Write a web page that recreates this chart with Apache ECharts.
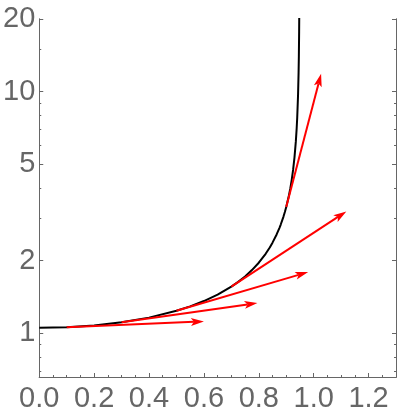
<!DOCTYPE html>
<html>
<head>
<meta charset="utf-8">
<script src="https://cdn.jsdelivr.net/npm/echarts@6/dist/echarts.min.js"></script>
<style>
html,body{margin:0;padding:0;background:#fff;}
#c{width:400px;height:419px;}
</style>
</head>
<body>
<div id="c"></div>
<script>
// Black solution curve
var curveX = [0, 0.1, 0.2, 0.3, 0.4, 0.5, 0.55, 0.6, 0.65, 0.7, 0.725, 0.75, 0.775, 0.8, 0.825, 0.84, 0.85, 0.865, 0.875, 0.88, 0.89, 0.895, 0.9, 0.91, 0.915, 0.92, 0.925, 0.93, 0.935, 0.938, 0.94, 0.943, 0.945, 0.946, 0.947, 0.9475];
var curveY = [1.054, 1.060, 1.078, 1.111, 1.162, 1.240, 1.294, 1.361, 1.447, 1.562, 1.634, 1.721, 1.828, 1.961, 2.135, 2.268, 2.374, 2.567, 2.728, 2.822, 3.044, 3.179, 3.333, 3.729, 3.991, 4.319, 4.747, 5.338, 6.229, 7.044, 7.809, 9.645, 11.97, 14.02, 17.70, 21.1];

// Red tangent arrows: start and tip
var arrowX0 = [0.1, 0.3, 0.5, 0.7, 0.9];
var arrowY0 = [1.060, 1.111, 1.240, 1.562, 3.333];
var arrowX1 = [0.600, 0.795, 0.980, 1.119, 1.027];
var arrowY1 = [1.121, 1.335, 1.794, 3.197, 11.87];

// Ticks
var xMajorTicks = [0, 0.2, 0.4, 0.6, 0.8, 1.0, 1.2];
var xMinorTicks = [0.05, 0.1, 0.15, 0.25, 0.3, 0.35, 0.45, 0.5, 0.55, 0.65, 0.7, 0.75, 0.85, 0.9, 0.95, 1.05, 1.1, 1.15, 1.25, 1.3];
var yMajorTicks = [1, 2, 5, 10, 20];
var yMinorTicks = [0.7, 0.8, 0.9, 3, 4, 6, 7, 8, 9, 15];

var AX = '#666666';
var FONT = 'Liberation Sans, Arial, sans-serif';

var curveData = curveX.map(function (x, i) { return [x, curveY[i]]; });
var arrowData = arrowX0.map(function (x, i) { return [x, arrowY0[i], arrowX1[i], arrowY1[i]]; });

function yAx(pos, ticks, len, showLabel) {
  return {
    type: 'log', logBase: 10, min: 0.66, max: 20, position: pos,
    axisLine: { show: true, lineStyle: { color: AX, width: 1 } },
    axisTick: { show: true, inside: true, length: len, customValues: ticks, lineStyle: { color: AX, width: 1 } },
    axisLabel: showLabel ? { show: true, customValues: ticks, fontSize: 29, color: AX, fontFamily: FONT, margin: 4,
      formatter: function (v) { return String(Math.round(v)); } } : { show: false },
    splitLine: { show: false }, minorTick: { show: false }
  };
}
function xAx(ticks, len, showLabel) {
  return {
    type: 'value', min: 0, max: 1.3, position: 'bottom',
    axisLine: { show: true, onZero: false, lineStyle: { color: AX, width: 1 } },
    axisTick: { show: true, inside: true, length: len, customValues: ticks, lineStyle: { color: AX, width: 1 } },
    axisLabel: showLabel ? { show: true, customValues: ticks, fontSize: 29, color: AX, fontFamily: FONT, margin: 7,
      formatter: function (v) { return v.toFixed(1); } } : { show: false },
    splitLine: { show: false }
  };
}

var chart = echarts.init(document.getElementById('c'), null, { renderer: 'canvas' });
chart.setOption({
  animation: false,
  backgroundColor: '#ffffff',
  grid: { left: 37, right: 4, top: 19, bottom: 42, containLabel: false },
  xAxis: [xAx(xMajorTicks, 4, true), xAx(xMinorTicks, 2, false)],
  yAxis: [yAx('left', yMajorTicks, 4, true), yAx('left', yMinorTicks, 2, false),
          yAx('right', yMajorTicks, 4, false), yAx('right', yMinorTicks, 2, false)],
  series: [
    {
      type: 'line', data: curveData, xAxisIndex: 0, yAxisIndex: 0, z: 2,
      symbol: 'none', smooth: false, clip: true,
      lineStyle: { color: '#000000', width: 2 }
    },
    {
      type: 'custom', xAxisIndex: 0, yAxisIndex: 0, data: arrowData, z: 3,
      encode: { x: [0, 2], y: [1, 3] },
      renderItem: function (params, api) {
        var p0 = api.coord([api.value(0), api.value(1)]);
        var p1 = api.coord([api.value(2), api.value(3)]);
        var dx = p1[0] - p0[0], dy = p1[1] - p0[1];
        var L = Math.sqrt(dx * dx + dy * dy);
        var ux = dx / L, uy = dy / L, nx = -uy, ny = ux;
        var hl = 13, hw = 4, notch = 10;
        var back = [p1[0] - ux * hl, p1[1] - uy * hl];
        var nb = [p1[0] - ux * notch, p1[1] - uy * notch];
        return {
          type: 'group',
          children: [
            { type: 'line', shape: { x1: p0[0], y1: p0[1], x2: nb[0], y2: nb[1] },
              style: { stroke: '#ff0000', lineWidth: 2 } },
            { type: 'polygon', shape: { points: [
                [p1[0], p1[1]],
                [back[0] + nx * hw, back[1] + ny * hw],
                [nb[0], nb[1]],
                [back[0] - nx * hw, back[1] - ny * hw]
              ] }, style: { fill: '#ff0000', stroke: null } }
          ]
        };
      }
    }
  ]
});
</script>
</body>
</html>
